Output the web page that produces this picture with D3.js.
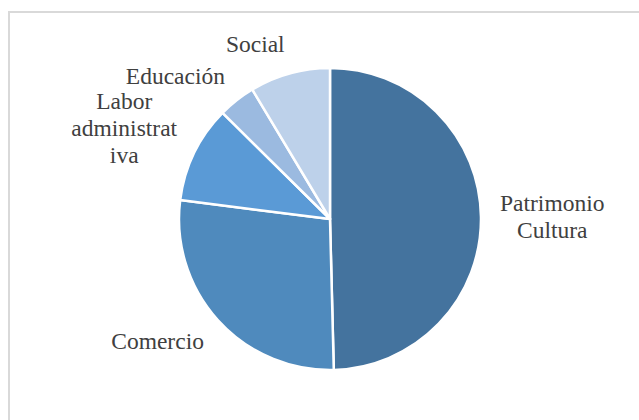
<!DOCTYPE html>
<html>
<head>
<meta charset="utf-8">
<script src="https://cdn.jsdelivr.net/npm/d3@7"></script>
<style>
  html, body { margin: 0; padding: 0; background: #fff; }
  svg { display: block; }
  .label { font-family: 'Liberation Serif', 'DejaVu Serif', 'Times New Roman', serif; }
</style>
</head>
<body>
<div id="chart"></div>
<script>
const width = 639
const height = 420

// slices, clockwise from 12 o'clock (percent)
const categories = ['Patrimonio Cultura', 'Comercio', 'Labor administrativa', 'Educación', 'Social']
const labelLines = [['Patrimonio', 'Cultura'], ['Comercio'], ['Labor', 'administrat', 'iva'], ['Educación'], ['Social']]
const values = [49.6, 27.4, 10.4, 4.0, 8.6]
const colors = ['#44739e', '#4f8abd', '#5a9ad6', '#9bbae0', '#bdd1ea']

const cx = 330
const cy = 219
const radius = 151
const labelGap = 19
const fontSize = 23.5
const lineHeight = 27

const data = categories.map((c, i) => ({ name: c, value: values[i], lines: labelLines[i] }))

const color = d3.scaleOrdinal().domain(categories).range(colors)

const svg = d3.select('#chart').append('svg')
    .attr('width', width)
    .attr('height', height)

// chart area border
svg.append('rect')
    .attr('x', 9)
    .attr('y', 12)
    .attr('width', width + 20)
    .attr('height', height + 20)
    .attr('fill', '#fff')
    .attr('stroke', '#d9d9d9')
    .attr('stroke-width', 2)

const pie = d3.pie().sort(null).value(d => d.value)
const arcs = pie(data)

const arc = d3.arc().innerRadius(0).outerRadius(radius)

const g = svg.append('g')
    .attr('transform', `translate(${cx},${cy})`)

g.selectAll('.slice')
    .data(arcs)
    .enter().append('path')
    .attr('class', 'slice')
    .attr('d', arc)
    .attr('fill', d => color(d.data.name))
    .attr('stroke', '#fff')
    .attr('stroke-width', 2.5)
    .attr('stroke-linejoin', 'round')

// labels outside end, box pushed out along the slice's mid angle
const labels = g.selectAll('.label')
    .data(arcs)
    .enter().append('text')
    .attr('class', 'label')
    .style('font-size', fontSize + 'px')
    .attr('fill', '#404040')
    .attr('text-anchor', 'middle')

labels.each(function (d) {
    const t = d3.select(this)
    d.data.lines.forEach((line, i) => {
        t.append('tspan').attr('x', 0).attr('dy', i === 0 ? 0 : lineHeight).text(line)
    })
    let w = 0
    t.selectAll('tspan').each(function () { w = Math.max(w, this.getComputedTextLength()) })
    const a = (d.startAngle + d.endAngle) / 2
    const ux = Math.sin(a)
    const uy = -Math.cos(a)
    const px = ux * (radius + labelGap)
    const py = uy * (radius + labelGap)
    const n = d.data.lines.length
    const h = ((n - 1) * lineHeight + fontSize) / 2
    const mx = px + Math.sign(ux) * w / 2
    const my = py + uy * h
    // first baseline so the block is centred on my
    const y0 = my - (n - 1) * lineHeight / 2 + fontSize * 0.35
    t.attr('transform', `translate(${mx},${y0})`)
})
</script>
</body>
</html>
